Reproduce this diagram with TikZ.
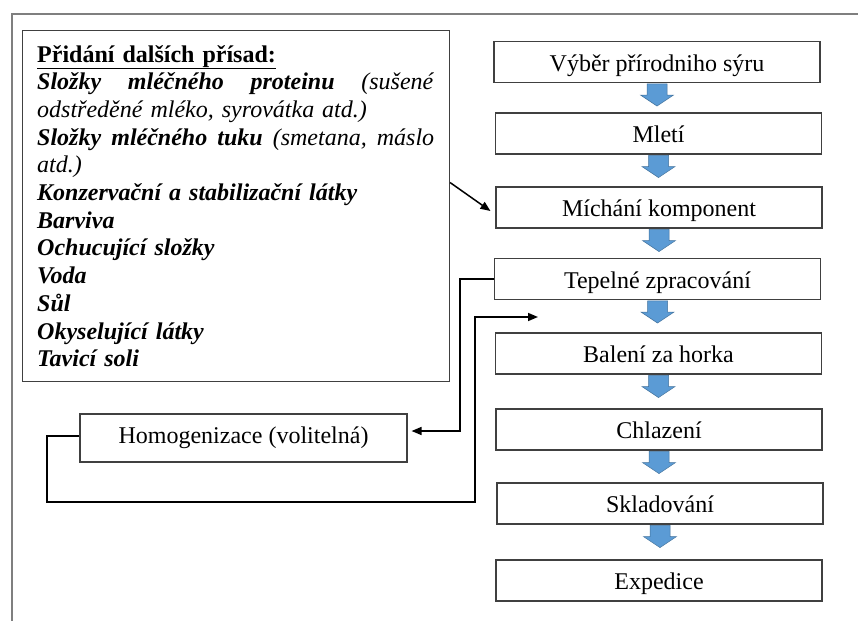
\documentclass[tikz,border=0pt]{standalone}
\usepackage{fontspec}
\setmainfont{Liberation Serif}
\usetikzlibrary{arrows.meta,calc}
\definecolor{framegray}{HTML}{7F7F7F}
\definecolor{boxgray}{HTML}{404040}
\definecolor{flowblue}{HTML}{5B9BD5}
\definecolor{flowedge}{HTML}{41719C}
\tikzset{
  stepbox/.style={draw=boxgray, line width=1.1pt, minimum width=326pt, minimum height=41pt,
    inner sep=0pt, text height=18pt, text depth=0pt, font=\fontsize{24}{28}\selectfont},
  conn/.style={draw=black, line width=1.5pt, -{Triangle[length=10pt,width=8pt]}},
  bluearrow/.style={fill=flowblue, draw=flowedge, line width=0.5pt},
}
\newcommand\flowarrow[1]{%
  \draw[bluearrow] ($(#1.south)+(-10,0.8)$) -- ++(20,0) -- ++(0,11.2) -- ++(6.5,0)
    -- ($(#1.south)+(0,23)$) -- ($(#1.south)+(-16.5,12)$) -- ++(6.5,0) -- cycle;}
\newcommand\justline[1]{\leavevmode\hbox to 397pt{#1}}
\begin{document}
\begin{tikzpicture}[x=1pt,y=-1pt]
\useasboundingbox (0,0) rectangle (858,621);
% outer frame (only top and left visible)
\draw[framegray, line width=1.5pt] (858,14) -- (12,14) -- (12,621);
% additives box
\node[draw=boxgray, line width=1.1pt, minimum width=427pt, minimum height=351pt, inner sep=0pt, anchor=north west] (add) at (22,30) {};
\node[anchor=base west, text width=397pt, align=left, inner sep=0pt,
  font=\fontsize{24}{27.7}\selectfont] (addtext) at (37,62) {%
\textbf{\underline{Přidání dalších přísad:}}\\
\justline{\textbf{\textit{Složky}}\hfill\textbf{\textit{mléčného}}\hfill\textbf{\textit{proteinu}}\hfill\textit{(sušené}}\\
\textit{odstředěné mléko, syrovátka atd.)}\\
\justline{\textbf{\textit{Složky}}\hfill\textbf{\textit{mléčného}}\hfill\textbf{\textit{tuku}}\hfill\textit{(smetana,}\hfill\textit{máslo}}\\
\textit{atd.)}\\
\textbf{\textit{Konzervační a stabilizační látky}}\\
\textbf{\textit{Barviva}}\\
\textbf{\textit{Ochucující složky}}\\
\textbf{\textit{Voda}}\\
\textbf{\textit{Sůl}}\\
\textbf{\textit{Okyselující látky}}\\
\textbf{\textit{Tavicí soli}}};
% process steps
\node[stepbox] (s1) at (657,62) {Výběr přírodniho sýru};
\node[stepbox] (s2) at (658.5,133.5) {Mletí};
\node[stepbox] (s3) at (659,207.5) {Míchání komponent};
\node[stepbox] (s4) at (657.5,279) {Tepelné zpracování};
\node[stepbox] (s5) at (658.5,353.5) {Balení za horka};
\node[stepbox] (s6) at (659,429.5) {Chlazení};
\node[stepbox] (s7) at (660,503.5) {Skladování};
\node[stepbox] (s8) at (659,580.5) {Expedice};
\node[stepbox, minimum width=327pt, minimum height=48pt, text height=15pt, text depth=5pt] (homog) at (243.5,438) {Homogenizace (volitelná)};
% blue flow arrows
\flowarrow{s1}
\flowarrow{s2}
\flowarrow{s3}
\flowarrow{s4}
\flowarrow{s5}
\flowarrow{s6}
\flowarrow{s7}
% connectors
\draw[conn] ([yshift=23.5pt]add.east) -- ([xshift=-5pt,yshift=-3.5pt]s3.west);
\draw[conn] (s4.west) -- ++(-34,0) |- ([xshift=4pt,yshift=7pt]homog.east);
\coordinate (ret) at (538,317);
\draw[conn] ([yshift=2pt]homog.west) -- (47,436) |- (475,502) |- (ret);
\end{tikzpicture}
\end{document}
